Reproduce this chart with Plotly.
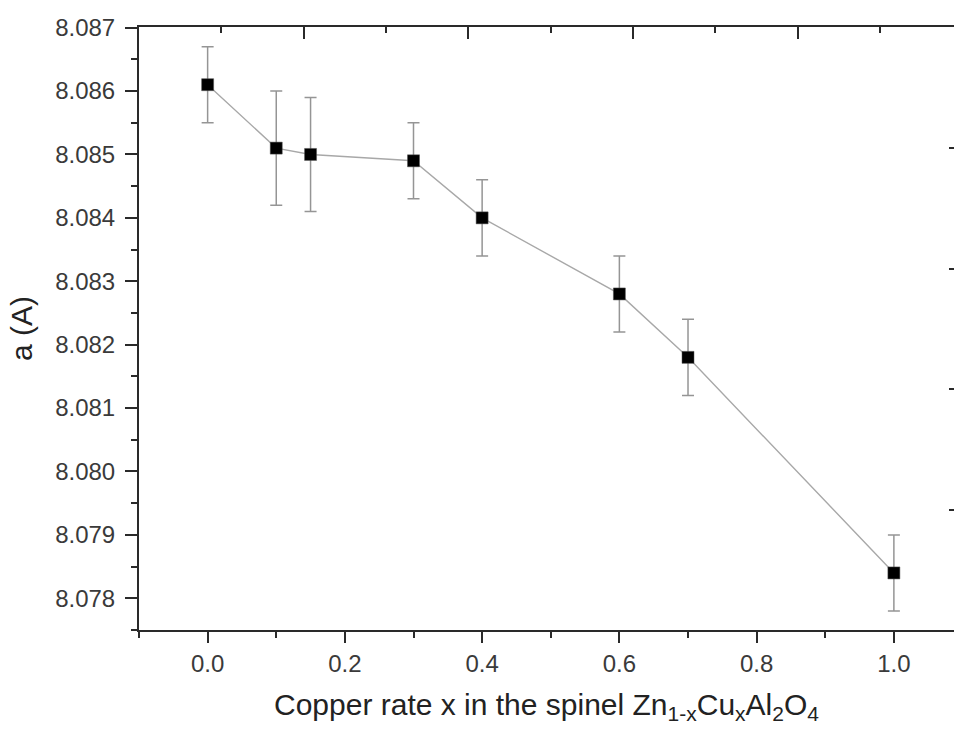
#!/usr/bin/env python3

import plotly.graph_objects as go

# Copper rate x in Zn(1-x)Cu(x)Al2O4 and lattice parameter a
copper_rate = [0.0, 0.1, 0.15, 0.3, 0.4, 0.6, 0.7, 1.0]
lattice_a = [8.0861, 8.0851, 8.0850, 8.0849, 8.0840, 8.0828, 8.0818, 8.0784]
lattice_err = [0.0006, 0.0009, 0.0009, 0.0006, 0.0006, 0.0006, 0.0006, 0.0006]

# ticks of the top / right frame (Origin-style mirrored frame)
top_major = [-0.1, 0.14, 0.38, 0.62, 0.86, 1.1]
top_minor = [0.02, 0.26, 0.5, 0.74, 0.98]
right_major = [8.0775, 8.0794, 8.0813, 8.0832, 8.0851, 8.0870]

X_RANGE = [-0.1, 1.0876]
Y_RANGE = [8.0775, 8.08701]
AXIS_COLOR = '#2a2a2a'
FONT = 'Liberation Sans, Arial, sans-serif'


def build_figure():
    fig = go.Figure()

    fig.add_trace(go.Scatter(
        x=copper_rate,
        y=lattice_a,
        mode='lines+markers',
        line=dict(color='#a8a8a8', width=1.4),
        marker=dict(symbol='square', size=12, color='black',
                    line=dict(color='#555555', width=0.5)),
        error_y=dict(type='data', array=lattice_err, visible=True,
                     color='#959595', thickness=1.5, width=6),
        showlegend=False,
        hoverinfo='x+y',
    ))

    # dummy trace so the mirrored frame axes are drawn
    fig.add_trace(go.Scatter(x=[None], y=[None], xaxis='x2', yaxis='y2',
                             showlegend=False, hoverinfo='skip'))

    fig.update_layout(
        width=954,
        height=731,
        margin=dict(l=139, r=0, t=27, b=101),
        paper_bgcolor='white',
        plot_bgcolor='white',
        font=dict(family=FONT, color='#3a3a3a', size=24),
        xaxis=dict(
            range=X_RANGE,
            tickmode='linear', tick0=0, dtick=0.2,
            tickformat='.1f',
            ticks='outside', ticklen=11, tickwidth=2, tickcolor=AXIS_COLOR,
            minor=dict(ticks='outside', ticklen=6, tickwidth=2,
                       tickcolor=AXIS_COLOR, dtick=0.1, tick0=0),
            showline=True, linecolor=AXIS_COLOR, linewidth=2,
            showgrid=False, zeroline=False,
            tickfont=dict(size=24),
            title=dict(
                text='Copper rate x in the spinel Zn<sub>1-x</sub>Cu<sub>x</sub>Al<sub>2</sub>O<sub>4</sub>',
                font=dict(size=30, color='#222222'), standoff=18),
        ),
        yaxis=dict(
            range=Y_RANGE,
            tickmode='linear', tick0=8.078, dtick=0.001,
            tickformat='.3f',
            ticks='outside', ticklen=12, tickwidth=2, tickcolor=AXIS_COLOR,
            minor=dict(ticks='outside', ticklen=6, tickwidth=2,
                       tickcolor=AXIS_COLOR, dtick=0.0005, tick0=8.0775),
            ticklabelstandoff=5,
            showline=True, linecolor=AXIS_COLOR, linewidth=2,
            showgrid=False, zeroline=False,
            tickfont=dict(size=24),
            title=dict(text='a (A)', font=dict(size=30, color='#222222'),
                       standoff=14),
        ),
        xaxis2=dict(
            overlaying='x', side='top', anchor='y2',
            range=X_RANGE,
            tickmode='array', tickvals=top_major,
            ticks='inside', ticklen=12, tickwidth=2, tickcolor=AXIS_COLOR,
            minor=dict(tickmode='array', tickvals=top_minor, ticks='inside',
                       ticklen=6, tickwidth=2, tickcolor=AXIS_COLOR),
            showticklabels=False,
            showline=True, linecolor=AXIS_COLOR, linewidth=2,
            showgrid=False, zeroline=False,
        ),
        yaxis2=dict(
            overlaying='y', side='right', anchor='x2',
            range=Y_RANGE,
            tickmode='array', tickvals=right_major,
            ticks='inside', ticklen=5, tickwidth=2, tickcolor=AXIS_COLOR,
            showticklabels=False,
            showline=False,
            showgrid=False, zeroline=False,
        ),
    )
    return fig


def main():
    fig = build_figure()
    # drop the default page margin so the figure sits at the window origin
    fig.write_html("out.html",
                   config={'displayModeBar': False},
                   post_script="document.body.style.margin='0';"
                               "document.body.style.overflow='hidden';")


if __name__ == "__main__":
    main()
